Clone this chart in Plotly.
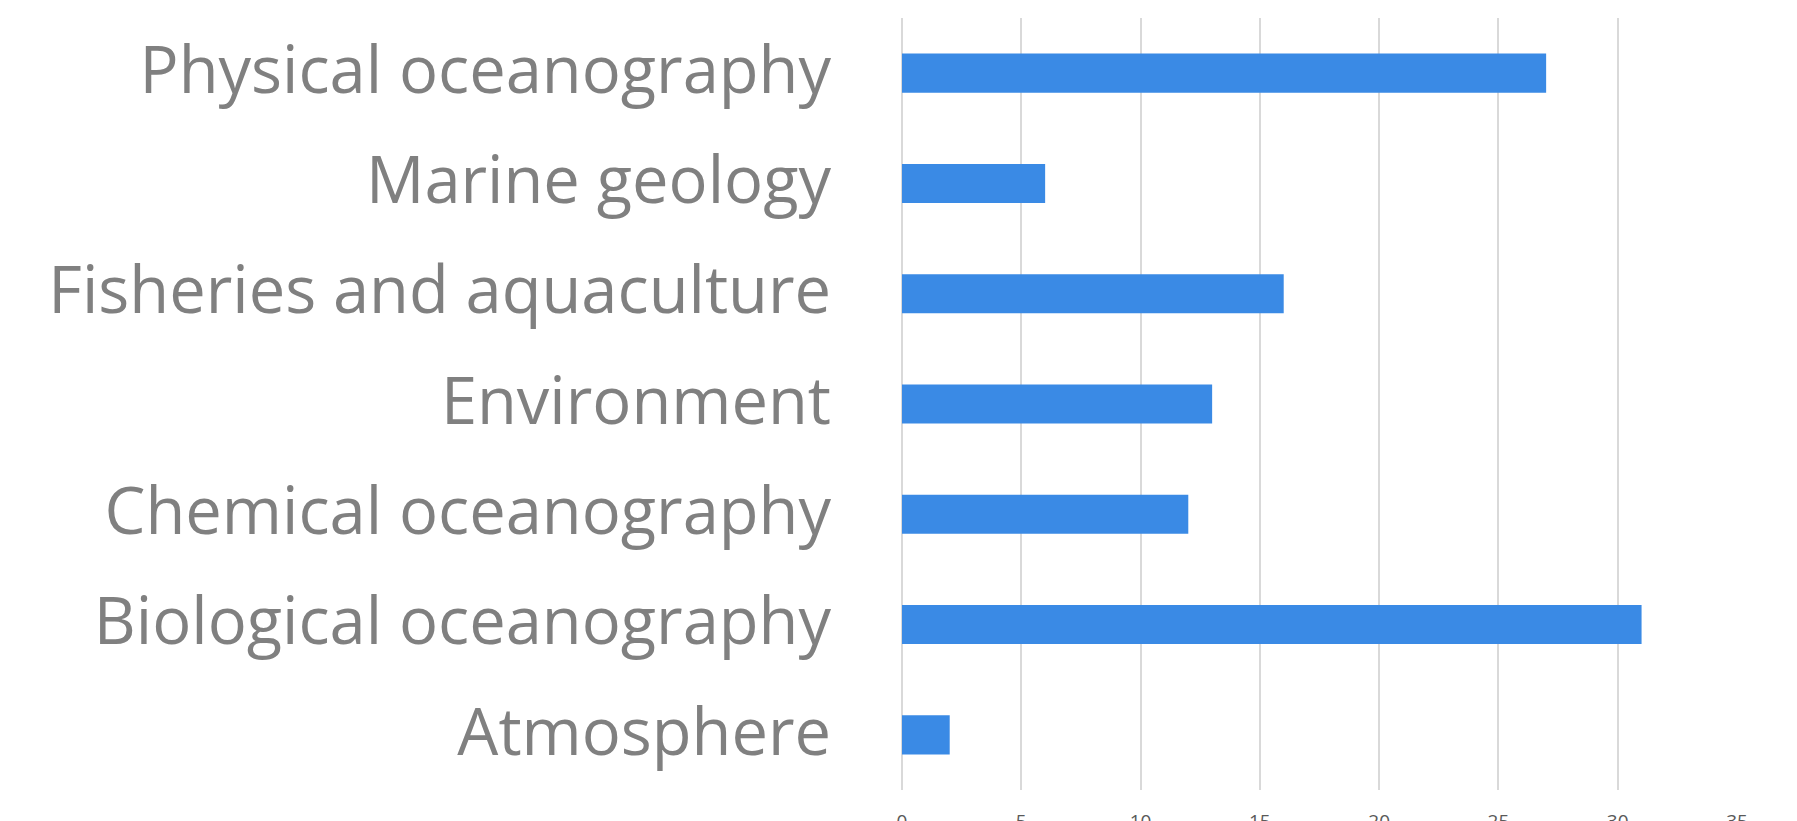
import plotly.graph_objects as go

categories = ["Atmosphere", "Biological oceanography", "Chemical oceanography",
              "Environment", "Fisheries and aquaculture", "Marine geology",
              "Physical oceanography"]
values = [2, 31, 12, 13, 16, 6, 27]
x_ticks = [0, 5, 10, 15, 20, 25, 30, 35]

fig = go.Figure(go.Bar(
    y=categories, x=values, orientation="h",
    marker=dict(color="#3a8ae5", line=dict(width=0)),
    width=0.354,
))

fig.update_layout(
    width=1789, height=813,
    margin=dict(l=894, r=60, t=10, b=31, autoexpand=False),
    paper_bgcolor="white", plot_bgcolor="white",
    showlegend=False,
    xaxis=dict(range=[0, 35], tickvals=x_ticks, showgrid=True,
               gridcolor="#d9d9d9", gridwidth=1.5, zeroline=True,
               zerolinecolor="#d9d9d9", zerolinewidth=1.5,
               showline=False, ticks="", ticklabelstandoff=18,
               tickfont=dict(family="Open Sans", size=19, color="#595959"),
               automargin=False, fixedrange=True),
    yaxis=dict(categoryorder="array", categoryarray=categories,
               showgrid=False, zeroline=False, showline=False, ticks="",
               ticklabelstandoff=70, ticklabelshift=-3,
               tickfont=dict(family="Open Sans", size=65, color="#808080"),
               automargin=False, fixedrange=True),
)

fig.write_html("out.html")
